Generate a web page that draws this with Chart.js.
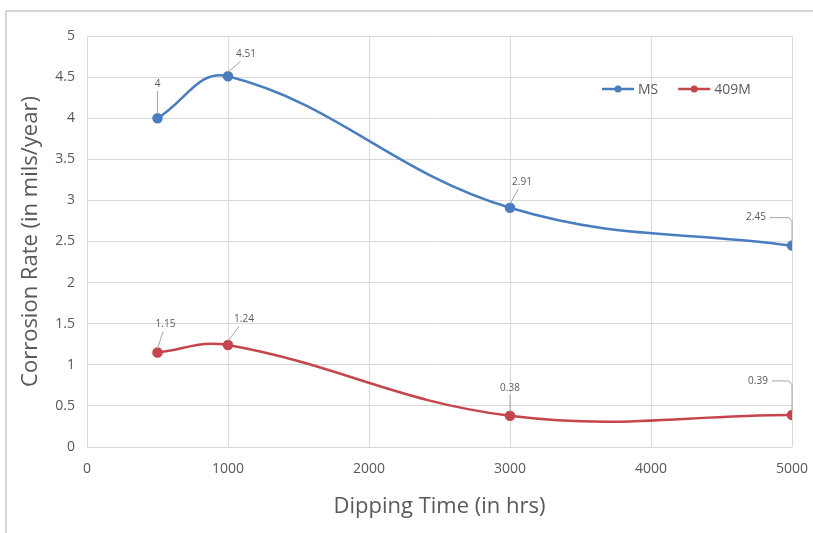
<!DOCTYPE html>
<html>
<head>
<meta charset="utf-8">
<script src="https://cdn.jsdelivr.net/npm/chart.js@4/dist/chart.umd.min.js"></script>
<style>
  html, body { margin: 0; padding: 0; background: #fff; }
  #wrap { width: 813px; height: 533px; }
</style>
</head>
<body>
<div id="wrap"><canvas id="line_chart" width="813" height="533"></canvas></div>
<script>
const hours = [500, 1000, 3000, 5000];
const ms_rate = [4, 4.51, 2.91, 2.45];
const m409_rate = [1.15, 1.24, 0.38, 0.39];
const x_ticks = [0, 1000, 2000, 3000, 4000, 5000];
const y_ticks = [0, 0.5, 1, 1.5, 2, 2.5, 3, 3.5, 4, 4.5, 5];

// label offsets (px) relative to each point, with leader line
const ms_offsets = [[0, -34], [18, -22], [12, -26], [-36, -28]];
const m409_offsets = [[8, -28], [16, -26], [0, -28], [-34, -34]];

const blue = '#4A7DBE';
const red = '#C4464C';

const labelPlugin = {
  id: 'pointLabels',
  beforeDraw(chart) {
    const c = chart.ctx;
    c.save();
    c.fillStyle = '#fff';
    c.fillRect(0, 0, chart.width, chart.height);
    c.strokeStyle = '#d4d4d4';
    c.lineWidth = 2;
    c.beginPath();
    c.moveTo(6, 533);
    c.lineTo(6, 11);
    c.lineTo(813, 11);
    c.stroke();
    c.restore();
  },
  afterDatasetsDraw(chart) {
    const c = chart.ctx;
    const offs = [ms_offsets, m409_offsets];
    c.save();
    c.font = '10px "Open Sans", sans-serif';
    c.fillStyle = '#595959';
    c.strokeStyle = '#a6a6a6';
    c.lineWidth = 1;
    c.textAlign = 'center';
    c.textBaseline = 'middle';
    chart.data.datasets.forEach((ds, i) => {
      chart.getDatasetMeta(i).data.forEach((pt, j) => {
        const [dx, dy] = offs[i][j];
        const lx = pt.x + dx, ly = pt.y + dy;
        c.fillText(String(ds.data[j].y), lx, ly);
        c.beginPath();
        if (dx < -20) {
          c.moveTo(lx + 14, ly);
          c.lineTo(pt.x - 3, ly);
          c.lineTo(pt.x, ly + 4);
          c.lineTo(pt.x, pt.y - 4);
        } else {
          c.moveTo(lx - dx * 0.3, ly + 7);
          c.lineTo(pt.x, pt.y - 4);
        }
        c.stroke();
      });
    });
    // legend
    const items = [['MS', blue], ['409M', red]];
    let x = 602;
    const y = 89;
    c.font = '14px "Open Sans", sans-serif';
    c.textAlign = 'left';
    items.forEach(([name, col]) => {
      c.strokeStyle = col;
      c.lineWidth = 2.5;
      c.beginPath();
      c.moveTo(x, y);
      c.lineTo(x + 32, y);
      c.stroke();
      c.fillStyle = col;
      c.beginPath();
      c.arc(x + 16, y, 3.5, 0, Math.PI * 2);
      c.fill();
      c.fillStyle = '#595959';
      c.fillText(name, x + 36, y + 1);
      x += 36 + c.measureText(name).width + 20;
    });
    c.restore();
  }
};

const ctx = document.getElementById('line_chart').getContext('2d');
const line_chart = new Chart(ctx, {
  type: 'scatter',
  data: {
    datasets: [{
      label: 'MS',
      data: hours.map((h, i) => ({ x: h, y: ms_rate[i] })),
      showLine: true,
      borderColor: blue,
      backgroundColor: blue,
      borderWidth: 2.5,
      pointRadius: 4,
      tension: 0.4
    }, {
      label: '409M',
      data: hours.map((h, i) => ({ x: h, y: m409_rate[i] })),
      showLine: true,
      borderColor: red,
      backgroundColor: red,
      borderWidth: 2.5,
      pointRadius: 4,
      tension: 0.4
    }]
  },
  plugins: [labelPlugin],
  options: {
    responsive: false,
    animation: false,
    layout: { padding: { left: 14, right: 21, top: 36, bottom: 9 } },
    plugins: {
      legend: { display: false },
      tooltip: { enabled: false }
    },
    scales: {
      x: {
        type: 'linear',
        min: 0,
        max: 5000,
        afterBuildTicks: (ax) => { ax.ticks = x_ticks.map(v => ({ value: v })); },
        afterFit: (ax) => { ax.height = 77; ax.paddingRight = 0; ax.paddingLeft = 0; },
        grid: { color: '#d9d9d9', drawTicks: false },
        border: { display: false },
        ticks: {
          color: '#595959',
          padding: 14,
          callback: (v) => String(v),
          font: { family: '"Open Sans", sans-serif', size: 14 }
        },
        title: {
          display: true,
          text: 'Dipping Time (in hrs)',
          color: '#595959',
          padding: { top: 0 },
          font: { family: '"Open Sans", sans-serif', size: 22 }
        }
      },
      y: {
        min: 0,
        max: 5,
        afterBuildTicks: (ax) => { ax.ticks = y_ticks.map(v => ({ value: v })); },
        afterFit: (ax) => { ax.width = 73; ax.paddingTop = 0; ax.paddingBottom = 0; },
        grid: { color: '#d9d9d9', drawTicks: false },
        border: { display: false },
        ticks: {
          color: '#595959',
          padding: 12,
          callback: (v) => String(v),
          font: { family: '"Open Sans", sans-serif', size: 14 }
        },
        title: {
          display: true,
          text: 'Corrosion Rate (in mils/year)',
          color: '#595959',
          padding: { bottom: 0 },
          font: { family: '"Open Sans", sans-serif', size: 22 }
        }
      }
    }
  }
});
</script>
</body>
</html>
